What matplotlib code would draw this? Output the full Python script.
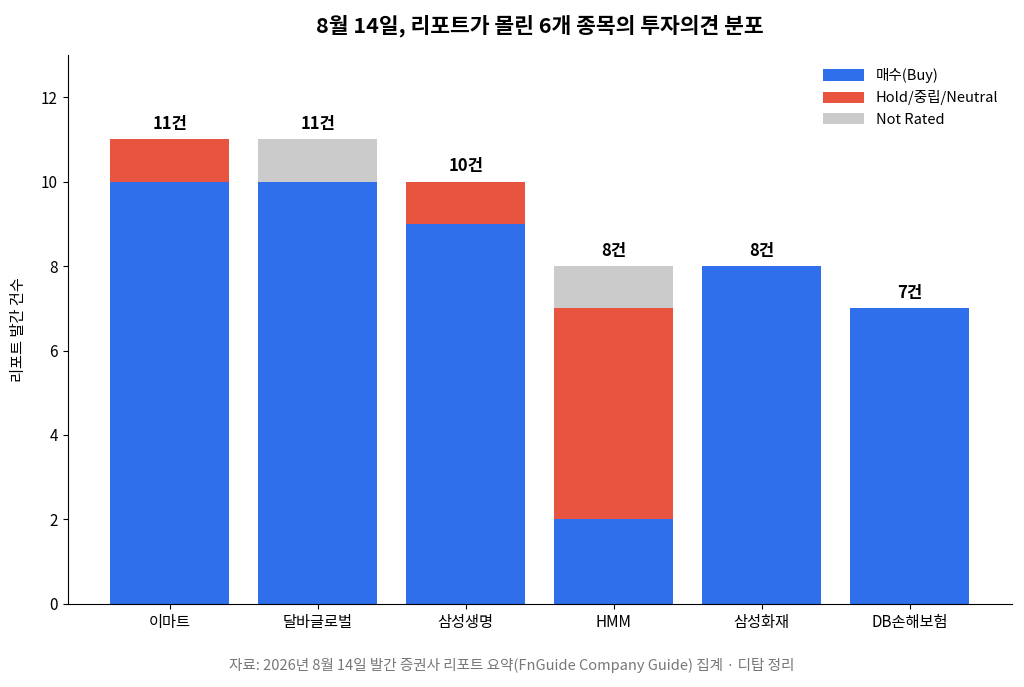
import matplotlib
matplotlib.use("Agg")
import matplotlib.pyplot as plt
import numpy as np

plt.rcParams['font.family'] = ['Noto Sans CJK KR', 'DejaVu Sans']

stocks = ["이마트", "달바글로벌", "삼성생명", "HMM", "삼성화재", "DB손해보험"]
buy = [10, 10, 9, 2, 8, 7]
hold = [1, 0, 1, 5, 0, 0]
not_rated = [0, 1, 0, 1, 0, 0]

buy_color = "#2F6FEB"
hold_color = "#E85440"
nr_color = "#CBCBCB"

fig, ax = plt.subplots(figsize=(10.24, 6.87), dpi=100)
fig.subplots_adjust(left=0.066, right=0.988, top=0.92, bottom=0.121)

x = np.arange(len(stocks))
buy_arr = np.array(buy)
hold_arr = np.array(hold)
nr_arr = np.array(not_rated)

ax.bar(x, buy_arr, width=0.8, color=buy_color, label="매수(Buy)")
ax.bar(x, hold_arr, width=0.8, bottom=buy_arr, color=hold_color, label="Hold/중립/Neutral")
ax.bar(x, nr_arr, width=0.8, bottom=buy_arr + hold_arr, color=nr_color, label="Not Rated")

totals = buy_arr + hold_arr + nr_arr
for xi, t in zip(x, totals):
    ax.text(xi, t + 0.15, f"{t}건", ha="center", va="bottom", fontsize=12, fontweight="bold")

ax.set_xticks(x)
ax.set_xticklabels(stocks, fontsize=11)
ax.set_xlim(-0.69, 5.69)
ax.set_ylim(0, 13)
ax.set_yticks(range(0, 13, 2))
ax.tick_params(axis="y", labelsize=11)
ax.set_ylabel("리포트 발간 건수", fontsize=11, labelpad=10)
ax.spines["top"].set_visible(False)
ax.spines["right"].set_visible(False)

ax.legend(loc="upper right", frameon=False, fontsize=10.5, handlelength=2.8, handleheight=0.8)

ax.set_title("8월 14일, 리포트가 몰린 6개 종목의 투자의견 분포", fontsize=15.5, fontweight="bold", pad=16)
fig.text(0.5, 0.025, "자료: 2026년 8월 14일 발간 증권사 리포트 요약(FnGuide Company Guide) 집계 · 디탑 정리",
         ha="center", fontsize=10.5, color="#777777")

fig.savefig("out.png", dpi=100)
